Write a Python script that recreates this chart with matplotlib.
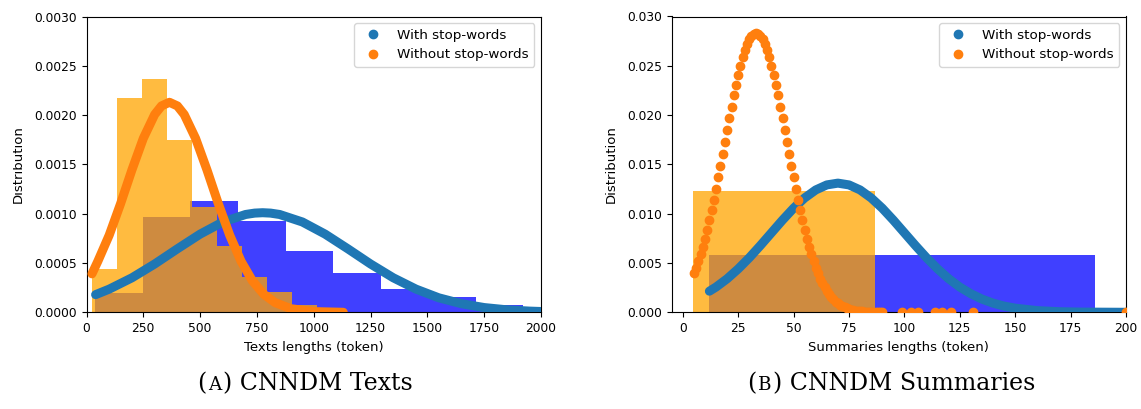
"""
Length distributions of CNNDM texts and summaries,
with and without stop-words (histogram + fitted normal curve).
"""

import matplotlib
matplotlib.use('Agg')
import matplotlib.pyplot as plt
from matplotlib.lines import Line2D
from matplotlib.transforms import Bbox
import numpy

FIG_W, FIG_H = 1141, 409  # pixels, dpi 100
BLUE_DOT = '#1f77b4'
ORANGE_DOT = '#ff7f0e'
CAPTION_BASELINE = 390  # pixels from the top

# ---- (A) texts: histograms (density) ----
TEXT_BLUE_EDGES = [38, 247, 457, 666, 876, 1085, 1294, 1504, 1713, 1922, 2132]
TEXT_BLUE_HEIGHTS = [0.000193, 0.000967, 0.00113, 0.00093, 0.000619,
                     0.0004, 0.000237, 0.000159, 0.000078, 0.00005]
TEXT_ORANGE_EDGES = [24, 134, 244, 354, 464, 574, 684, 794, 904, 1014, 1124]
TEXT_ORANGE_HEIGHTS = [0.000441, 0.002171, 0.002364, 0.001747, 0.001069,
                       0.000668, 0.000356, 0.000203, 0.000078, 0.00002]

# ---- (A) texts: fitted curves ----
TEXT_BLUE_CURVE_X = [40, 100, 200, 300, 400, 500, 600, 700, 740, 775, 810, 850,
                     950, 1050, 1150, 1250, 1350, 1450, 1550, 1650, 1750, 1850,
                     1950, 2000]
TEXT_BLUE_CURVE_Y = [0.000179, 0.000235, 0.000350, 0.000490, 0.000644, 0.000793,
                     0.000916, 0.000992, 0.001006, 0.00101, 0.001006, 0.000992,
                     0.000916, 0.000793, 0.000644, 0.000490, 0.000350, 0.000235,
                     0.000147, 0.000087, 0.000048, 0.000025, 0.000012, 0.000008]
TEXT_ORANGE_CURVE_X = [24, 50, 100, 150, 200, 250, 300, 330, 365, 400, 430, 480,
                       530, 580, 630, 680, 730, 780, 830, 900, 1000, 1130]
TEXT_ORANGE_CURVE_Y = [0.00039, 0.000518, 0.000783, 0.001102, 0.001445, 0.001764,
                       0.002006, 0.002093, 0.00213, 0.002093, 0.002006, 0.001764,
                       0.001445, 0.001102, 0.000783, 0.000518, 0.000319, 0.000183,
                       0.000098, 0.000036, 0.000007, 0.0]

# ---- (B) summaries: histograms ----
SUMM_BLUE_EDGES = [11.9, 185.8, 359.7]
SUMM_BLUE_HEIGHTS = [0.00582, 0.00002]
SUMM_ORANGE_EDGES = [4.5, 86.6, 168.7]
SUMM_ORANGE_HEIGHTS = [0.01231, 0.00002]

# ---- (B) summaries: fitted curves ----
SUMM_BLUE_CURVE_X = [12, 15, 20, 25, 30, 35, 40, 45, 50, 55, 60, 65, 70, 75, 80,
                     85, 90, 95, 100, 105, 110, 115, 120, 125, 130, 135, 140, 145,
                     150, 160, 170, 180, 190, 200]
SUMM_BLUE_CURVE_Y = [0.00214, 0.00256, 0.00340, 0.00440, 0.00553, 0.00677, 0.00806,
                     0.00935, 0.01056, 0.01160, 0.01241, 0.01292, 0.01310, 0.01292,
                     0.01241, 0.01160, 0.01056, 0.00935, 0.00806, 0.00677, 0.00553,
                     0.00440, 0.00340, 0.00256, 0.00188, 0.00134, 0.00093, 0.00063,
                     0.00042, 0.00017, 0.00006, 0.00002, 0.00001, 0.0]
# one dot per summary length (tokens)
SUMM_ORANGE_X = list(range(5, 91)) + [99, 103, 106, 114, 117, 121, 131, 200]
SUMM_ORANGE_Y = [0.00394, 0.00452, 0.00517, 0.00588, 0.00665, 0.00748, 0.00838,
                 0.00933, 0.01035, 0.01141, 0.01253, 0.01368, 0.01486, 0.01607,
                 0.01729, 0.01850, 0.01970, 0.02087, 0.02201, 0.02308, 0.02409,
                 0.02502, 0.02585, 0.02658, 0.02718, 0.02767, 0.02802, 0.02823,
                 0.02830,
                 0.02823, 0.02802, 0.02767, 0.02718, 0.02658, 0.02585, 0.02502,
                 0.02409, 0.02308, 0.02201, 0.02087, 0.01970, 0.01850, 0.01729,
                 0.01607, 0.01486, 0.01368, 0.01253, 0.01141, 0.01035, 0.00933,
                 0.00838, 0.00748, 0.00665, 0.00588, 0.00517, 0.00452, 0.00394,
                 0.00341, 0.00294, 0.00252, 0.00215, 0.00183, 0.00155, 0.00130,
                 0.00109, 0.00090, 0.00075, 0.00062, 0.00051, 0.00041, 0.00034,
                 0.00027, 0.00022, 0.00017, 0.00014, 0.00011, 0.00009, 0.00007,
                 0.00005, 0.00004, 0.00003, 0.00002, 0.00002, 0.00001, 0.00001,
                 0.00001,
                 0.0, 0.0, 0.0, 0.0, 0.0, 0.0, 0.0, 0.0]

LEGEND_LABELS = ['With stop-words', 'Without stop-words']


def draw_hists(ax, blue_edges, blue_heights, orange_edges, orange_heights):
    """blue first, orange on top -> brown where they overlap"""
    ax.bar(blue_edges[:-1], blue_heights, width=numpy.diff(blue_edges),
           align='edge', color='blue', alpha=0.75, linewidth=0)
    ax.bar(orange_edges[:-1], orange_heights, width=numpy.diff(orange_edges),
           align='edge', color='orange', alpha=0.75, linewidth=0)


def thick_curve(ax, x, y, color):
    ax.plot(x, y, color=color, lw=6.5, solid_capstyle='round',
            solid_joinstyle='round', zorder=3)


def style_axes(ax, xlim, xticks, ylim, yticks, xlabel, ylabel_x):
    ax.set_xlim(*xlim)
    ax.set_ylim(*ylim)
    ax.set_xticks(xticks)
    ax.set_yticks(yticks)
    ax.tick_params(labelsize=8.8)
    ax.set_xlabel(xlabel, fontsize=9.5)
    ax.set_ylabel('Distribution', fontsize=9.5)
    ax.yaxis.set_label_coords(ylabel_x, 0.5)
    handles = [Line2D([], [], ls='', marker='o', markersize=6, color=BLUE_DOT,
                      label=LEGEND_LABELS[0]),
               Line2D([], [], ls='', marker='o', markersize=6, color=ORANGE_DOT,
                      label=LEGEND_LABELS[1])]
    ax.legend(handles=handles, loc='upper right', fontsize=9.7)


def caption(fig, x_center, letter, rest, size=17):
    """caption like '(A) CNNDM Texts' with a small-cap letter"""
    renderer = fig.canvas.get_renderer()
    parts = [('(', size), (letter, size * 0.78), (') ' + rest, size)]
    texts = []
    widths = []
    for s, fs in parts:
        t = fig.text(0, 0, s, fontsize=fs, family='DejaVu Serif', va='baseline')
        texts.append(t)
        widths.append(t.get_window_extent(renderer).width)
    gap = 1.5
    x = x_center - (sum(widths) + 2 * gap) / 2
    for t, w in zip(texts, widths):
        t.set_position((x / FIG_W, (FIG_H - CAPTION_BASELINE) / FIG_H))
        x += w + gap


fig = plt.figure(figsize=(FIG_W / 100, FIG_H / 100), dpi=100)

# axes boxes measured in pixels from the picture
ax1 = fig.add_axes([86.5 / FIG_W, (FIG_H - 312.3) / FIG_H,
                    (541 - 86.5) / FIG_W, (312.3 - 16.5) / FIG_H])
ax2 = fig.add_axes([671.7 / FIG_W, (FIG_H - 312.3) / FIG_H,
                    (1126 - 671.7) / FIG_W, (312.3 - 16.5) / FIG_H])

# (A) texts
draw_hists(ax1, TEXT_BLUE_EDGES, TEXT_BLUE_HEIGHTS,
           TEXT_ORANGE_EDGES, TEXT_ORANGE_HEIGHTS)
thick_curve(ax1, TEXT_BLUE_CURVE_X, TEXT_BLUE_CURVE_Y, BLUE_DOT)
thick_curve(ax1, TEXT_ORANGE_CURVE_X, TEXT_ORANGE_CURVE_Y, ORANGE_DOT)
style_axes(ax1, (0, 2000), numpy.arange(0, 2001, 250), (0, 0.003),
           numpy.arange(0, 0.00301, 0.0005), 'Texts lengths (token)', -0.136)

# (B) summaries
draw_hists(ax2, SUMM_BLUE_EDGES, SUMM_BLUE_HEIGHTS,
           SUMM_ORANGE_EDGES, SUMM_ORANGE_HEIGHTS)
thick_curve(ax2, SUMM_BLUE_CURVE_X, SUMM_BLUE_CURVE_Y, BLUE_DOT)
ax2.scatter(SUMM_ORANGE_X, SUMM_ORANGE_Y, s=36, color=ORANGE_DOT, zorder=4)
style_axes(ax2, (-5, 200), numpy.arange(0, 201, 25), (0, 0.03),
           numpy.arange(0, 0.0301, 0.005), 'Summaries lengths (token)', -0.118)

# the left y label is cut by the page edge in the original
ax1.yaxis.label.set_clip_on(True)
ax1.yaxis.label.set_clip_box(Bbox.from_extents(12.5, 0, FIG_W, FIG_H))

caption(fig, 305, 'A', 'CNNDM Texts')
caption(fig, 891, 'B', 'CNNDM Summaries')

fig.savefig('out.png', dpi=100)
